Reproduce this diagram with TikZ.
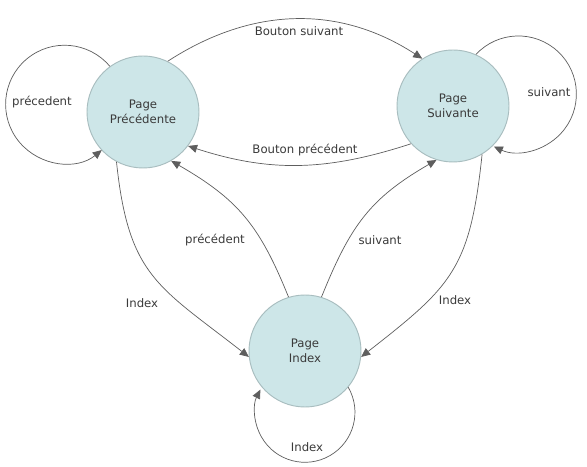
\documentclass[tikz,border=0pt]{standalone}
\usepackage{fontspec}
\setmainfont{DejaVu Sans}
\usetikzlibrary{arrows.meta}

\definecolor{pagefill}{HTML}{CDE6E8}
\definecolor{pageline}{HTML}{A8BDBF}
\definecolor{edgeline}{HTML}{5E5E5E}
\definecolor{labeltext}{HTML}{3A3A3A}

\tikzset{
    page/.style={circle, draw=pageline, fill=pagefill, line width=0.8pt,
        minimum size=3.36cm, inner sep=0pt, align=center, text=labeltext,
        font=\fontsize{10}{12.5}\selectfont},
    edge/.style={-{Triangle[length=0.27cm, width=0.24cm]}, draw=edgeline,
        line width=0.6pt},
    edgelabel/.style={text=labeltext, font=\fontsize{10}{12.5}\selectfont}
}

\begin{document}
\begin{tikzpicture}
    \useasboundingbox (0,0) rectangle (17.61,14.01);

    % The three pages
    \node[page] (prec) at (4.29,10.65) {Page\\Précédente};
    \node[page] (suiv) at (13.59,10.83) {Page\\Suivante};
    \node[page] (index) at (9.15,3.48) {Page\\Index};

    % Buttons between the two top pages
    \draw[edge] (prec.64) to[out=33, in=147] (suiv.123);
    \draw[edge] (suiv.222) to[out=198, in=342] (prec.323);
    \node[edgelabel] (lbsuiv) at (8.97,13.08) {Bouton suivant};
    \node[edgelabel] (lbprec) at (9.15,9.51) {Bouton précédent};

    % Links to and from the index page
    \draw[edge] (prec.242) to[out=276, in=142, looseness=1.25] (index.186);
    \draw[edge] (suiv.301) to[out=264, in=38, looseness=1.25] (index.354);
    \draw[edge] (index.107) to[out=112, in=330, looseness=1.1] (prec.300);
    \draw[edge] (index.73) to[out=68, in=210, looseness=1.1] (suiv.253);
    \node[edgelabel] (lileft) at (4.26,4.92) {Index};
    \node[edgelabel] (liright) at (13.65,5.01) {Index};
    \node[edgelabel] (lprec) at (6.45,6.81) {précédent};
    \node[edgelabel] (lsuiv) at (11.4,6.81) {suivant};

    % Self loops
    \draw[edge] (prec.126) arc[start angle=40, end angle=309, radius=1.77cm];
    \draw[edge] (suiv.66) arc[start angle=137, end angle=-115, radius=1.74cm];
    \draw[edge] (index.-40) arc[start angle=30, end angle=-207, radius=1.5cm];
    \node[edgelabel] (lloopprec) at (1.26,10.95) {précedent};
    \node[edgelabel] (lloopsuiv) at (16.47,11.25) {suivant};
    \node[edgelabel] (lloopindex) at (9.21,0.6) {Index};
\end{tikzpicture}
\end{document}
